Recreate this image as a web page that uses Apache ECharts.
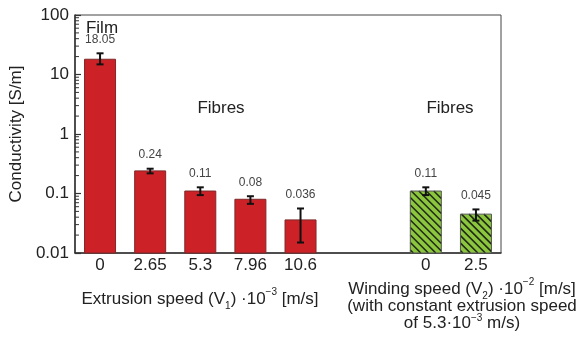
<!DOCTYPE html>
<html>
<head>
<meta charset="utf-8">
<script src="https://cdn.jsdelivr.net/npm/echarts@6/dist/echarts.min.js"></script>
<style>html,body{margin:0;padding:0;background:#fff;}#c{width:583px;height:347px;}</style>
</head>
<body>
<div id="c"></div>
<script>
// ---- data ----
var v1Labels = ['0', '2.65', '5.3', '7.96', '10.6'];
var v1Values = [18.05, 0.24, 0.11, 0.08, 0.036];
var v1ErrLow = [14.8, 0.218, 0.094, 0.067, 0.015];
var v1ErrHigh = [22.7, 0.261, 0.127, 0.090, 0.056];
var v1Text = ['18.05', '0.24', '0.11', '0.08', '0.036'];

var v2Labels = ['0', '2.5'];
var v2Values = [0.11, 0.045];
var v2ErrLow = [0.094, 0.035];
var v2ErrHigh = [0.127, 0.054];
var v2Text = ['0.11', '0.045'];

var yTicks = [0.01, 0.1, 1, 10, 100];

// ---- layout (slot positions on the category axis) ----
var NSLOTS = 18;
var v1Slots = [1, 3, 5, 7, 9];
var v2Slots = [14, 16];
var Y_MIN = yTicks[0], Y_MAX = yTicks[yTicks.length - 1];

var cats = [];
for (var i = 0; i < NSLOTS; i++) cats.push('');
v1Slots.forEach(function (s, k) { cats[s] = v1Labels[k]; });
v2Slots.forEach(function (s, k) { cats[s] = v2Labels[k]; });

var redData = v1Slots.map(function (s, k) { return [s, v1Values[k]]; });
var greenData = v2Slots.map(function (s, k) { return [s, v2Values[k]]; });

var errData = [];
v1Slots.forEach(function (s, k) { errData.push([s, v1ErrLow[k], v1ErrHigh[k], v1Text[k]]); });
v2Slots.forEach(function (s, k) { errData.push([s, v2ErrLow[k], v2ErrHigh[k], v2Text[k]]); });

var minorData = [];
for (var e = 0; e < yTicks.length - 1; e++) {
  for (var m = 2; m <= 9; m++) minorData.push([0, +(m * yTicks[e]).toPrecision(3)]);
}

var FONT = '"Liberation Sans", Arial, Helvetica, sans-serif';
var FS = 17;
var BAR_W = 31;

function barRender(fill, stroke, hatch) {
  return function (params, api) {
    var x = api.value(0);
    var pTop = api.coord([x, api.value(1)]);
    var pBot = api.coord([x, Y_MIN]);
    var x0 = pTop[0] - BAR_W / 2, x1 = pTop[0] + BAR_W / 2;
    var y0 = pTop[1], y1 = pBot[1];
    var children = [
      { type: 'rect', shape: { x: x0, y: y0, width: BAR_W, height: y1 - y0 }, style: { fill: fill, stroke: null } }
    ];
    if (hatch) {
      var step = 7.5;
      // lines y = x + c  (running from upper-left to lower-right)
      for (var c = (y0 - x1) - step; c <= (y1 - x0) + step; c += step) {
        var xa = Math.max(x0, y0 - c), xb = Math.min(x1, y1 - c);
        if (xb - xa > 0.3) {
          children.push({ type: 'line', shape: { x1: xa, y1: xa + c, x2: xb, y2: xb + c }, style: { stroke: '#1f2a14', lineWidth: 1.6 } });
        }
      }
    }
    children.push({ type: 'rect', shape: { x: x0, y: y0, width: BAR_W, height: y1 - y0 }, style: { fill: null, stroke: stroke, lineWidth: 1 } });
    return { type: 'group', children: children };
  };
}

var chart = echarts.init(document.getElementById('c'));
chart.setOption({
  animation: false,
  textStyle: { fontFamily: FONT },
  grid: { left: 73, top: 15, width: 428, bottom: 94, show: true, borderColor: '#444', borderWidth: 1, backgroundColor: 'transparent' },
  xAxis: {
    type: 'category',
    data: cats,
    boundaryGap: false,
    axisLine: { lineStyle: { color: '#333', width: 1.5 } },
    axisTick: { show: false },
    axisLabel: { interval: 0, color: '#222', fontSize: FS, margin: 4, fontFamily: FONT },
    splitLine: { show: false }
  },
  yAxis: {
    type: 'log',
    logBase: 10,
    min: Y_MIN,
    max: Y_MAX,
    name: 'Conductivity [S/m]',
    nameLocation: 'middle',
    nameGap: 46,
    nameTextStyle: { fontSize: FS, color: '#222', fontFamily: FONT },
    axisLine: { show: true, lineStyle: { color: '#333', width: 1.5 } },
    axisTick: { show: true, inside: true, length: 6, lineStyle: { color: '#333', width: 1.2 } },
    minorTick: { show: false },
    splitLine: { show: false },
    axisLabel: {
      color: '#222', fontSize: FS, margin: 6, fontFamily: FONT,
      formatter: function (v) { return String(+(+v).toPrecision(3)); }
    }
  },
  series: [
    { type: 'custom', data: redData, renderItem: barRender('#cc2127', '#7d2a2a', false), z: 2, clip: false },
    { type: 'custom', data: greenData, renderItem: barRender('#8cc63f', '#555', true), z: 2, clip: false },
    {
      type: 'custom',
      data: errData,
      clip: false,
      z: 5,
      renderItem: function (params, api) {
        var x = api.value(0);
        var pLo = api.coord([x, api.value(1)]);
        var pHi = api.coord([x, api.value(2)]);
        var cx = pLo[0], cap = 3.5;
        var st = { stroke: '#111', lineWidth: 2 };
        return {
          type: 'group',
          children: [
            { type: 'line', shape: { x1: cx, y1: pLo[1], x2: cx, y2: pHi[1] }, style: st },
            { type: 'line', shape: { x1: cx - cap, y1: pLo[1], x2: cx + cap, y2: pLo[1] }, style: st },
            { type: 'line', shape: { x1: cx - cap, y1: pHi[1], x2: cx + cap, y2: pHi[1] }, style: st },
            { type: 'text', x: cx, y: pHi[1] - 14, style: { text: api.value(3), fill: '#444', font: '12px ' + FONT, align: 'center', verticalAlign: 'middle' } }
          ]
        };
      }
    },
    {
      type: 'custom',
      data: minorData,
      clip: false,
      z: 5,
      renderItem: function (params, api) {
        var p = api.coord([0, api.value(1)]);
        return { type: 'line', shape: { x1: p[0], y1: p[1], x2: p[0] + 4, y2: p[1] }, style: { stroke: '#333', lineWidth: 1 } };
      }
    }
  ],
  graphic: [
    { type: 'text', x: 102, y: 28, style: { text: 'Film', font: FS + 'px ' + FONT, fill: '#222', align: 'center', verticalAlign: 'middle' } },
    { type: 'text', x: 221, y: 108, style: { text: 'Fibres', font: FS + 'px ' + FONT, fill: '#222', align: 'center', verticalAlign: 'middle' } },
    { type: 'text', x: 450, y: 108, style: { text: 'Fibres', font: FS + 'px ' + FONT, fill: '#222', align: 'center', verticalAlign: 'middle' } },
    { type: 'text', x: 200, y: 299, style: {
        text: 'Extrusion speed (V{sub|1}) ·10{sup|−3} [m/s]',
        font: FS + 'px ' + FONT, fill: '#222', align: 'center', verticalAlign: 'middle',
        rich: { sub: { fontSize: 10, verticalAlign: 'bottom', lineHeight: 24, fill: '#222', fontFamily: FONT }, sup: { fontSize: 10, verticalAlign: 'top', lineHeight: 20, fill: '#222', fontFamily: FONT } }
    } },
    { type: 'text', x: 462, y: 289, style: {
        text: 'Winding speed (V{sub|2}) ·10{sup|−2} [m/s]',
        font: FS + 'px ' + FONT, fill: '#222', align: 'center', verticalAlign: 'middle',
        rich: { sub: { fontSize: 10, verticalAlign: 'bottom', lineHeight: 24, fill: '#222', fontFamily: FONT }, sup: { fontSize: 10, verticalAlign: 'top', lineHeight: 20, fill: '#222', fontFamily: FONT } }
    } },
    { type: 'text', x: 462, y: 306, style: { text: '(with constant extrusion speed', font: FS + 'px ' + FONT, fill: '#222', align: 'center', verticalAlign: 'middle' } },
    { type: 'text', x: 462, y: 323, style: {
        text: 'of 5.3·10{sup|−3} m/s)',
        font: FS + 'px ' + FONT, fill: '#222', align: 'center', verticalAlign: 'middle',
        rich: { sup: { fontSize: 10, verticalAlign: 'top', lineHeight: 20, fill: '#222', fontFamily: FONT } }
    } }
  ]
});
</script>
</body>
</html>
